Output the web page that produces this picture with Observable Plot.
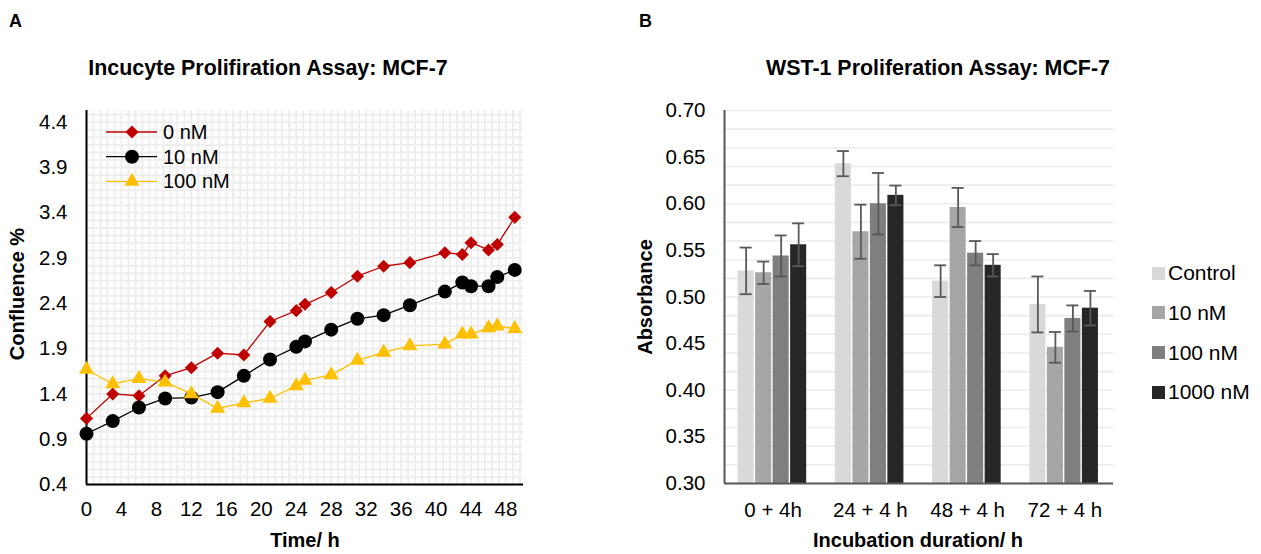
<!DOCTYPE html>
<html><head><meta charset="utf-8">
<script src="https://cdn.jsdelivr.net/npm/d3@7"></script>
<script src="https://cdn.jsdelivr.net/npm/@observablehq/plot@0.6"></script>
<style>
body{margin:0;background:#fff;}
#root{position:relative;width:1261px;height:554px;overflow:hidden;font-family:"Liberation Sans",Arial,sans-serif;color:#000;background:#fff;}
.abs{position:absolute;white-space:nowrap;}
.panel{font-weight:bold;font-size:18px;transform:translate(0,-50%);}
.title{font-weight:bold;font-size:21.4px;transform:translate(-50%,-50%);}
.axt{font-weight:bold;font-size:20px;transform:translate(-50%,-50%);}
.axtv{font-weight:bold;font-size:20px;transform:translate(-50%,-50%) rotate(-90deg);}
.leg{font-size:20px;transform:translate(0,-50%);}
.legb{font-size:21px;transform:translate(0,-50%);}
</style>
</head><body>
<div id="root"></div>
<script>
// ---------- Panel A data ----------
const hours   = [0,3,6,9,12,15,18,21,24,25,28,31,34,37,41,43,44,46,47,49];
const conf0   = [1.13,1.40,1.38,1.60,1.69,1.85,1.83,2.20,2.32,2.39,2.52,2.70,2.81,2.85,2.96,2.94,3.07,2.99,3.05,3.35];
const conf10  = [0.96,1.10,1.25,1.35,1.36,1.42,1.60,1.78,1.92,1.98,2.11,2.23,2.27,2.38,2.53,2.63,2.59,2.59,2.69,2.77];
const conf100 = [1.67,1.51,1.57,1.53,1.40,1.24,1.30,1.35,1.49,1.55,1.61,1.77,1.86,1.93,1.95,2.06,2.06,2.13,2.15,2.12];
const seriesA = ["0 nM","10 nM","100 nM"];
const colorsA = ["#c00000","#000000","#ffc000"];
const symbolsA = ["diamond2","circle","triangle"];
const xTicksA = [0,4,8,12,16,20,24,28,32,36,40,44,48];
const yTicksA = [0.4,0.9,1.4,1.9,2.4,2.9,3.4,3.9,4.4];

// ---------- Panel B data ----------
const groups = ["0 + 4h","24 + 4 h","48 + 4 h","72 + 4 h"];
const treatments = ["Control","10 nM","100 nM","1000 nM"];
const absControl = [0.528,0.643,0.517,0.492];
const abs10      = [0.526,0.570,0.596,0.446];
const abs100     = [0.544,0.600,0.547,0.477];
const abs1000    = [0.556,0.609,0.534,0.488];
const errControl = [0.025,0.0135,0.017,0.030];
const err10      = [0.012,0.029,0.021,0.0165];
const err100     = [0.022,0.033,0.013,0.014];
const err1000    = [0.023,0.0105,0.012,0.0185];
const colorsB = ["#d9d9d9","#a6a6a6","#7f7f7f","#262626"];
const yTicksB = [0.30,0.35,0.40,0.45,0.50,0.55,0.60,0.65,0.70];

const root = document.getElementById("root");
function addDiv(cls, text, x, y) {
  const d = document.createElement("div");
  d.className = "abs " + cls; d.textContent = text;
  d.style.left = x + "px"; d.style.top = y + "px";
  root.appendChild(d); return d;
}
function place(node, x, y) {
  const w = document.createElement("div");
  w.className = "abs"; w.style.left = x + "px"; w.style.top = y + "px";
  w.appendChild(node); root.appendChild(w);
}
const font = {fontSize: "20.5px", fontFamily: "'Liberation Sans', Arial, sans-serif", color: "#000", background: "transparent", overflow: "visible"};

// ---------- Panel A ----------
const valsA = [conf0, conf10, conf100];
const rowsA = [];
valsA.forEach((vals, si) => vals.forEach((v, i) => rowsA.push({t: hours[i], v, s: seriesA[si]})));
const yDomA = [0.4, 4.53], xDomA = [0, 50];
const marksA = [
  Plot.gridX(d3.range(xDomA[0], xDomA[1] + 1e-9, 0.8), {stroke: "#eeeeee", strokeOpacity: 1, strokeWidth: 2}),
  Plot.gridY(d3.range(yDomA[0], yDomA[1], 1/12), {stroke: "#eeeeee", strokeOpacity: 1, strokeWidth: 2}),
  Plot.axisY(yTicksA, {tickSize: 0, tickPadding: 19, tickFormat: d3.format(".1f"), label: null}),
  Plot.axisX(xTicksA, {tickSize: 0, tickPadding: 17, label: null}),
  Plot.ruleX([xDomA[0]], {stroke: "#000", strokeWidth: 2}),
  Plot.ruleY([yDomA[0]], {stroke: "#000", strokeWidth: 2})
];
seriesA.forEach((s, si) => {
  const d = rowsA.filter(r => r.s === s);
  marksA.push(Plot.line(d, {x: "t", y: "v", stroke: colorsA[si], strokeWidth: 1.3}));
  const r = si === 0 ? 5.9 : si === 1 ? 7 : 5.6;
  marksA.push(Plot.dot(d, {x: "t", y: "v", fill: colorsA[si], symbol: () => symbolsA[si], r, stroke: "none"}));
});
const plotA = Plot.plot({
  width: 560, height: 464, marginLeft: 86, marginRight: 37, marginTop: 20, marginBottom: 70,
  x: {domain: xDomA}, y: {domain: yDomA}, symbol: {type: "identity"},
  style: font, marks: marksA
});
place(plotA, 0, 90);

// legend A
const legA = d3.create("svg").attr("width", 70).attr("height", 80);
seriesA.forEach((s, i) => {
  const cy = 12 + i * 24.7;
  legA.append("line").attr("x1", 2).attr("x2", 53).attr("y1", cy).attr("y2", cy).attr("stroke", colorsA[i]).attr("stroke-width", 1.3);
  const r = i === 0 ? 5.9 : i === 1 ? 7 : 5.6;
  const sym = [d3.symbolDiamond2, d3.symbolCircle, d3.symbolTriangle][i];
  legA.append("path").attr("transform", `translate(28,${cy})`).attr("d", d3.symbol(sym, Math.PI * r * r)()).attr("fill", colorsA[i]);
});
place(legA.node(), 104, 120);
seriesA.forEach((s, i) => addDiv("leg", s, 163, 132 + i * 24.7));

addDiv("panel", "A", 9, 21);
addDiv("title", "Incucyte Prolifiration Assay: MCF-7", 268, 68);
addDiv("axt", "Time/ h", 305, 540);
addDiv("axtv", "Confluence %", 17, 294);

// ---------- Panel B ----------
const valsB = [absControl, abs10, abs100, abs1000];
const errsB = [errControl, err10, err100, err1000];
const rowsB = [];
const groupSpan = 0.72, step = groupSpan / treatments.length, barW = 0.165, capHalf = 0.062;
groups.forEach((g, gi) => treatments.forEach((t, ti) => {
  const x1 = gi - groupSpan / 2 + ti * step;
  rowsB.push({g, t, ti, x1, x2: x1 + barW, xc: x1 + barW / 2, v: valsB[ti][gi], e: errsB[ti][gi]});
}));
const yDomB = [0.30, 0.70], xDomB = [-0.5, groups.length - 0.5];
const plotB = Plot.plot({
  width: 510, height: 464, marginLeft: 104, marginRight: 17, marginTop: 20, marginBottom: 71,
  x: {domain: xDomB}, y: {domain: yDomB},
  color: {domain: treatments, range: colorsB},
  style: font,
  marks: [
    Plot.gridY(d3.range(yDomB[0], yDomB[1] + 1e-9, 0.02), {stroke: "#ececec", strokeOpacity: 1, strokeWidth: 1.6}),
    Plot.axisY(yTicksB, {tickSize: 0, tickPadding: 19, tickFormat: d3.format(".2f"), label: null}),
    Plot.axisX(d3.range(groups.length), {tickSize: 0, tickPadding: 19, tickFormat: i => groups[i], label: null}),
    Plot.rectY(rowsB, {x1: "x1", x2: "x2", y1: yDomB[0], y2: "v", fill: "t"}),
    Plot.ruleX(rowsB, {x: "xc", y1: d => d.v - d.e, y2: d => d.v + d.e, stroke: "#595959", strokeWidth: 1.8}),
    Plot.ruleY(rowsB, {y: d => d.v - d.e, x1: d => d.xc - capHalf, x2: d => d.xc + capHalf, stroke: "#595959", strokeWidth: 1.8}),
    Plot.ruleY(rowsB, {y: d => d.v + d.e, x1: d => d.xc - capHalf, x2: d => d.xc + capHalf, stroke: "#595959", strokeWidth: 1.8}),
    Plot.ruleX([xDomB[0]], {stroke: "#595959", strokeWidth: 2}),
    Plot.ruleY([yDomB[0]], {stroke: "#595959", strokeWidth: 2})
  ]
});
place(plotB, 620, 90);

// legend B
treatments.forEach((t, i) => {
  const cy = 273 + i * 39.8;
  const sq = document.createElement("div");
  sq.className = "abs"; sq.style.left = "1152px"; sq.style.top = (cy - 6.5) + "px";
  sq.style.width = "13px"; sq.style.height = "13px"; sq.style.background = colorsB[i];
  root.appendChild(sq);
  addDiv("legb", t, 1168, cy);
});

addDiv("panel", "B", 639, 21);
addDiv("title", "WST-1 Proliferation Assay: MCF-7", 938, 68);
addDiv("axt", "Incubation duration/ h", 918, 540);
addDiv("axtv", "Absorbance", 645, 297);
</script>
</body></html>
